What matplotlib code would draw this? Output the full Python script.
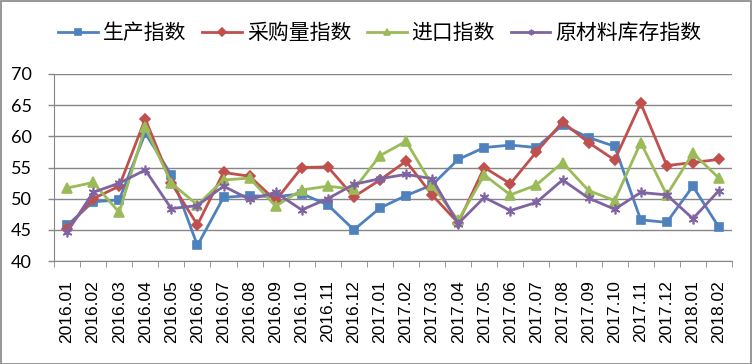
import matplotlib
matplotlib.use("Agg")
import matplotlib.pyplot as plt
from matplotlib.patches import Rectangle

plt.rcParams['font.family'] = ['Noto Sans CJK SC', 'DejaVu Sans']

categories = ["2016.01", "2016.02", "2016.03", "2016.04", "2016.05", "2016.06",
              "2016.07", "2016.08", "2016.09", "2016.10", "2016.11", "2016.12",
              "2017.01", "2017.02", "2017.03", "2017.04", "2017.05", "2017.06",
              "2017.07", "2017.08", "2017.09", "2017.10", "2017.11", "2017.12",
              "2018.01", "2018.02"]

production = [45.7, 49.5, 49.8, 60.5, 53.8, 42.5, 50.2, 50.5, 50.3, 50.8, 49.0, 45.0,
              48.5, 50.5, 52.2, 56.3, 58.2, 58.6, 58.2, 61.8, 59.8, 58.4, 46.6, 46.2,
              52.0, 45.4]
purchase = [45.2, 50.0, 52.0, 62.8, 52.5, 45.8, 54.2, 53.6, 49.7, 55.0, 55.1, 50.3,
            53.0, 56.0, 50.6, 46.1, 55.0, 52.4, 57.5, 62.3, 59.0, 56.2, 65.3, 55.3,
            55.8, 56.3]
imports = [51.7, 52.6, 47.8, 61.5, 52.5, 49.0, 53.0, 53.3, 48.8, 51.4, 52.0, 51.5,
           56.9, 59.2, 52.2, 46.5, 53.8, 50.6, 52.2, 55.8, 51.3, 49.7, 59.0, 50.6,
           57.3, 53.3]
inventory = [44.6, 51.0, 52.5, 54.6, 48.4, 48.9, 52.0, 49.9, 51.0, 48.2, 50.0, 52.3,
             53.2, 53.9, 53.2, 46.0, 50.2, 48.1, 49.4, 53.0, 50.1, 48.3, 51.0, 50.6,
             46.8, 51.3]

series = [
    ("生产指数", production, "#4F81BD", "s", 6),
    ("采购量指数", purchase, "#C0504D", "D", 5),
    ("进口指数", imports, "#9BBB59", "^", 6.5),
    ("原材料库存指数", inventory, "#8064A2", (6, 2, 0), 7),
]

W, H = 752, 364
fig = plt.figure(figsize=(W / 100, H / 100), dpi=100)
fig.patches.append(Rectangle((0.5 / W, 0.5 / H), 1 - 1.5 / W, 1 - 1.5 / H,
                             transform=fig.transFigure, fill=False,
                             edgecolor="#868686", linewidth=1.2))

left, right, top, bottom = 54, 732, 74, 261
ax = fig.add_axes([left / W, 1 - bottom / H, (right - left) / W, (bottom - top) / H])

x = list(range(len(categories)))
for name, vals, color, marker, ms in series:
    ax.plot(x, vals, color=color, linewidth=2, marker=marker, markersize=ms,
            markerfacecolor=color, markeredgecolor=color, markeredgewidth=1.2,
            label=name)

ax.set_xlim(-0.5, len(categories) - 0.5)
ax.set_ylim(40, 70)
ax.set_yticks([40, 45, 50, 55, 60, 65, 70])
ax.yaxis.grid(True, color="#868686", linewidth=1)
ax.set_axisbelow(True)
for s in ["top", "right"]:
    ax.spines[s].set_visible(False)
ax.spines["left"].set_color("#868686")
ax.spines["bottom"].set_color("#868686")
ax.tick_params(axis="y", length=4.5, width=1, color="#868686", pad=11.5, colors="black")
for lbl in ax.get_yticklabels():
    lbl.set_fontfamily("Lato")
    lbl.set_fontsize(13)

ax.set_xticks(x)
ax.set_xticklabels(categories, rotation=90, fontsize=12.5, family="Liberation Sans")
ax.tick_params(axis="x", length=0, pad=14)
ax.set_xticks([i - 0.5 for i in range(len(categories) + 1)], minor=True)
ax.tick_params(axis="x", which="minor", length=4, color="#868686", direction="out")

leg = fig.legend(loc="center", bbox_to_anchor=(380 / W, 1 - 33 / H), ncol=4,
                 frameon=False, fontsize=15, handlelength=1.9, columnspacing=0.75,
                 handletextpad=0.25, borderpad=0, borderaxespad=0)
for h in leg.legend_handles:
    h.set_markersize(4)

fig.savefig("out.png", dpi=100)
